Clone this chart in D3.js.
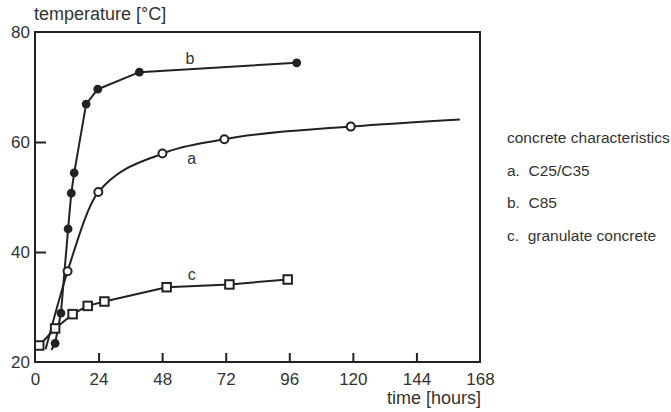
<!DOCTYPE html>
<html>
<head>
<meta charset="utf-8">
<script src="https://cdn.jsdelivr.net/npm/d3@7/dist/d3.min.js"></script>
<style>
  html, body { margin: 0; padding: 0; background: #fff; }
  svg { display: block; }
  text { font-family: "Liberation Sans", Arial, sans-serif; fill: #333; }
</style>
</head>
<body>
<svg id="chart" width="671" height="412"></svg>
<script>
// Hydration heat development of three concrete mixes
const xTicks = [0, 24, 48, 72, 96, 120, 144, 168];
const yTicks = [20, 40, 60, 80];

// a. C25/C35 — smooth curve, open circles at measured points
const aHours  = [4, 12.3, 23.9, 48.1, 71.5, 119.2, 160.4];
const aTemp   = [22.3, 36.5, 50.9, 57.9, 60.5, 62.8, 64.1];
const aMarked = [false, true, true, true, true, true, false];

// b. C85 — polyline, filled circles
const bHours  = [6.2, 7.6, 9.8, 12.5, 13.7, 14.8, 19.3, 23.7, 39.4, 98.8];
const bTemp   = [22.2, 23.4, 28.9, 44.2, 50.7, 54.4, 66.9, 69.6, 72.7, 74.4];
const bMarked = [false, true, true, true, true, true, true, true, true, true];

// c. granulate concrete — polyline, open squares
const cHours = [1.6, 7.6, 14.2, 19.9, 26.2, 49.7, 73.4, 95.4];
const cTemp  = [23.0, 26.1, 28.7, 30.2, 31.0, 33.6, 34.1, 35.0];

const legendTitle = "concrete characteristics";
const legendItems = ["a.  C25/C35", "b.  C85", "c.  granulate concrete"];
const curveLabels = [
  { key: "b", h: 58.5, t: 74.1 },
  { key: "a", h: 59.2, t: 56.0 },
  { key: "c", h: 59.2, t: 35.0 }
];

const svg = d3.select("#chart");
const x = d3.scaleLinear().domain([0, 168]).range([35, 480]);
const y = d3.scaleLinear().domain([20, 80]).range([362, 32]);
const ink = "#222";
const font = "Liberation Sans, Arial, sans-serif";

// frame
svg.append("rect")
  .attr("x", x(0)).attr("y", y(80))
  .attr("width", x(168) - x(0)).attr("height", y(20) - y(80))
  .attr("fill", "none").attr("stroke", ink).attr("stroke-width", 2);

// axes with inward ticks
const xAxis = d3.axisBottom(x).tickValues(xTicks).tickSizeInner(-9).tickSizeOuter(0).tickPadding(11);
const gx = svg.append("g").attr("transform", `translate(0,${y(20)})`).call(xAxis);
gx.select(".domain").remove();
gx.selectAll(".tick line").attr("stroke", ink).attr("stroke-width", 2)
  .attr("display", d => (d === 0 || d === 168) ? "none" : null);
gx.selectAll(".tick text").attr("font-size", 17).attr("fill", "#333").attr("font-family", font);

const yAxis = d3.axisLeft(y).tickValues(yTicks).tickSizeInner(-11).tickSizeOuter(0).tickPadding(5);
const gy = svg.append("g").attr("transform", `translate(${x(0)},0)`).call(yAxis);
gy.select(".domain").remove();
gy.selectAll(".tick line").attr("stroke", ink).attr("stroke-width", 2)
  .attr("display", d => (d === 20 || d === 80) ? "none" : null);
gy.selectAll(".tick text").attr("font-size", 17).attr("fill", "#333").attr("font-family", font);

// axis titles
svg.append("text").attr("x", 34).attr("y", 20).attr("font-size", 18).text("temperature [°C]");
svg.append("text").attr("x", 481).attr("y", 404).attr("font-size", 18)
  .attr("text-anchor", "end").text("time [hours]");

const pts = (hs, ts) => hs.map((h, i) => [h, ts[i]]);
const aPts = pts(aHours, aTemp), bPts = pts(bHours, bTemp), cPts = pts(cHours, cTemp);

const smooth = d3.line().x(d => x(d[0])).y(d => y(d[1])).curve(d3.curveMonotoneX);
const straight = d3.line().x(d => x(d[0])).y(d => y(d[1]));

const lines = svg.append("g").attr("fill", "none").attr("stroke", ink).attr("stroke-width", 2)
  .attr("stroke-linejoin", "round");
lines.append("path").attr("d", smooth(aPts));
lines.append("path").attr("d", straight(bPts));
lines.append("path").attr("d", straight(cPts));

// markers
svg.append("g").selectAll("circle").data(bPts.filter((d, i) => bMarked[i]))
  .join("circle").attr("cx", d => x(d[0])).attr("cy", d => y(d[1])).attr("r", 4.4)
  .attr("fill", ink);

svg.append("g").selectAll("circle").data(aPts.filter((d, i) => aMarked[i]))
  .join("circle").attr("cx", d => x(d[0])).attr("cy", d => y(d[1])).attr("r", 4)
  .attr("fill", "#fff").attr("stroke", ink).attr("stroke-width", 2);

const sq = 8.5;
svg.append("g").selectAll("rect").data(cPts)
  .join("rect").attr("x", d => x(d[0]) - sq / 2).attr("y", d => y(d[1]) - sq / 2)
  .attr("width", sq).attr("height", sq)
  .attr("fill", "#fff").attr("stroke", ink).attr("stroke-width", 2);

// curve letters
svg.append("g").selectAll("text").data(curveLabels).join("text")
  .attr("x", d => x(d.h)).attr("y", d => y(d.t))
  .attr("text-anchor", "middle").attr("font-size", 16).attr("fill", "#3a4250")
  .text(d => d.key);

// legend
const lg = svg.append("g").attr("font-size", 15.5);
lg.append("text").attr("x", 507).attr("y", 143).text(legendTitle);
lg.selectAll("text.item").data(legendItems).join("text").attr("class", "item")
  .attr("x", 507).attr("y", (d, i) => 175.5 + i * 32.5)
  .attr("xml:space", "preserve").style("white-space", "pre").text(d => d);
</script>
</body>
</html>
